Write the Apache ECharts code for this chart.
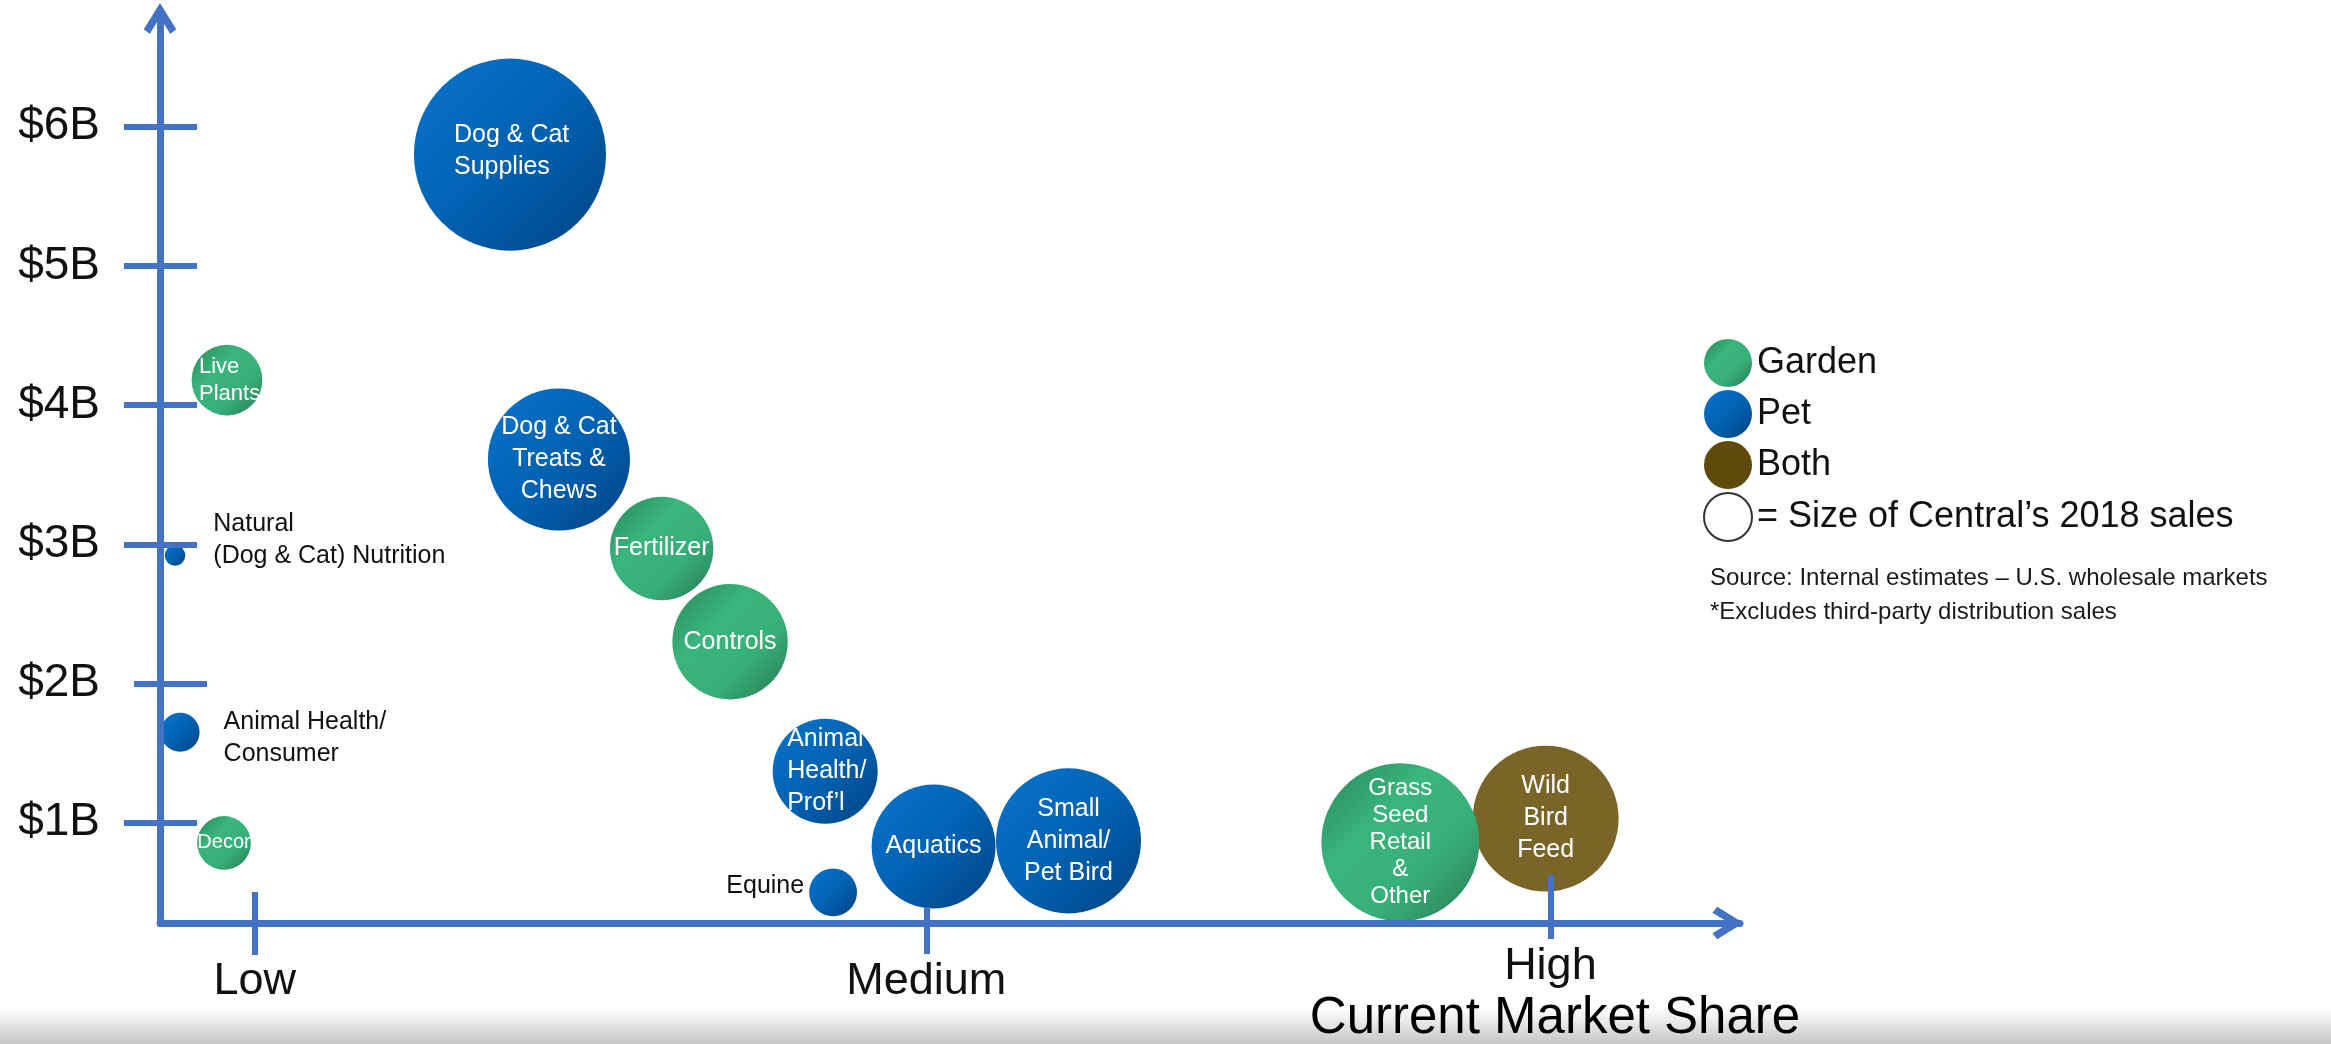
<!DOCTYPE html>
<html>
<head>
<meta charset="utf-8">
<script src="https://cdn.jsdelivr.net/npm/echarts@6/dist/echarts.min.js"></script>
<style>
html,body{margin:0;padding:0;background:#ffffff;}
#chart{width:2331px;height:1044px;}
</style>
</head>
<body>
<div id="chart"></div>
<script>
// ---------- DATA ----------
const yTickValues = [1, 2, 3, 4, 5, 6];
const yTickLabels = ['$1B', '$2B', '$3B', '$4B', '$5B', '$6B'];
const xTickValues = [6, 48.5, 88];
const xTickLabels = ['Low', 'Medium', 'High'];
const categories = ['Garden', 'Pet', 'Both'];
const sizeLegendText = '= Size of Central’s 2018 sales';

// [current market share position, U.S. wholesale market size ($B), Central's 2018 sales ($M), segment]
const gardenData = [
  [4.24, 4.18, 59, 'Live\nPlants'],
  [31.75, 2.97, 126, 'Fertilizer'],
  [36.08, 2.30, 157, 'Controls'],
  [4.05, 0.855, 34, 'Decor'],
  [78.5, 0.86, 294, 'Grass\nSeed\nRetail\n&\nOther']
];
const petData = [
  [22.15, 5.80, 435, 'Dog & Cat\nSupplies'],
  [25.25, 3.61, 238, 'Dog & Cat\nTreats &\nChews'],
  [0.95, 2.92, 5, 'Natural\n(Dog & Cat) Nutrition'],
  [1.27, 1.65, 18, 'Animal Health/\nConsumer'],
  [42.1, 1.37, 130, 'Animal\nHealth/\nProf’l'],
  [42.6, 0.50, 27, 'Equine'],
  [48.96, 0.83, 181, 'Aquatics'],
  [57.5, 0.87, 248, 'Small\nAnimal/\nPet Bird']
];
const bothData = [
  [87.7, 1.03, 251, 'Wild\nBird\nFeed']
];

// ---------- STYLE ----------
const FONT = 'Liberation Sans, Arial, Helvetica, sans-serif';
const axisColor = '#4472C4';
const chevron = 'path://M50,0 L100,81 L81.7,95.6 L50,43.8 L18.3,95.6 L0,81 Z';
// tick mark extents (px) on either side of the axis line, per tick
const xTickAbove = [31, 16, 48];
const xTickBelow = [32, 31, 16];
const yTickLeft = [36, 26, 36, 36, 36, 36];
const yTickRight = [37, 47, 37, 37, 37, 37];

const blueFill = new echarts.graphic.LinearGradient(0, 0, 1, 1, [
  {offset: 0, color: '#0a74cc'},
  {offset: 0.5, color: '#0062b2'},
  {offset: 1, color: '#004383'}
]);
const greenFill = new echarts.graphic.LinearGradient(0, 0, 1, 1, [
  {offset: 0, color: '#2a8659'},
  {offset: 0.35, color: '#3ab57c'},
  {offset: 0.65, color: '#37af79'},
  {offset: 1, color: '#287a52'}
]);
const brownFill = '#7a6529';

const labelOverrides = {
  'Live\nPlants': {fontSize: 22, lineHeight: 27, align: 'left', offset: [-28, 0]},
  'Decor': {fontSize: 20},
  'Dog & Cat\nSupplies': {align: 'left', offset: [-56, -3]},
  'Animal\nHealth/\nProf’l': {align: 'left', offset: [-38, 0]},
  'Grass\nSeed\nRetail\n&\nOther': {fontSize: 24, lineHeight: 27},
  'Natural\n(Dog & Cat) Nutrition': {position: 'right', distance: 28, offset: [0, -15], color: '#111'},
  'Animal Health/\nConsumer': {position: 'right', distance: 24, offset: [0, 6], color: '#111'},
  'Equine': {position: 'left', distance: 5, offset: [0, -6], color: '#111'}
};

function toItems(arr) {
  return arr.map(function (d) {
    const item = {value: [d[0], d[1], d[2]], name: d[3]};
    if (labelOverrides[d[3]]) item.label = labelOverrides[d[3]];
    return item;
  });
}

function bubbleSeries(name, arr, fill, z) {
  return {
    name: name,
    type: 'scatter',
    xAxisIndex: 0,
    yAxisIndex: 0,
    z: z,
    clip: false,
    data: toItems(arr),
    symbol: 'circle',
    symbolSize: function (v) { return 9.21 * Math.sqrt(v[2]); },
    itemStyle: {color: fill, opacity: 1},
    label: {
      show: true,
      position: 'inside',
      formatter: '{b}',
      color: '#ffffff',
      fontSize: 25,
      lineHeight: 32,
      fontFamily: FONT
    },
    emphasis: {disabled: true}
  };
}

const tickStyle = {color: axisColor, width: 6};
const X_MIN = 0, X_MAX = 100, Y_MIN = 0.28, Y_MAX = 6.82;

const xAxes = [{
  type: 'value', min: X_MIN, max: X_MAX, position: 'bottom', z: 5,
  axisLine: {show: true, onZero: false, lineStyle: {color: axisColor, width: 7},
    symbol: ['none', chevron], symbolSize: [35, 31], symbolOffset: [0, -12]},
  axisTick: {show: false},
  axisLabel: {
    show: true, customValues: xTickValues, margin: 36, color: '#111',
    formatter: function (v) {
      const i = xTickValues.indexOf(v);
      return (i === xTickValues.length - 1 ? '{hi|' : '{n|') + xTickLabels[i] + '}';
    },
    rich: {
      n: {fontSize: 45, fontFamily: FONT, color: '#111'},
      hi: {fontSize: 45, lineHeight: 15, fontFamily: FONT, color: '#111'}
    }
  },
  splitLine: {show: false}
}];
xTickValues.forEach(function (v, i) {
  xAxes.push({
    type: 'value', min: X_MIN, max: X_MAX, position: 'bottom', z: 6,
    axisLine: {show: false, onZero: false}, axisLabel: {show: false}, splitLine: {show: false},
    axisTick: {show: true, inside: true, customValues: [v], length: xTickAbove[i], lineStyle: tickStyle}
  });
  xAxes.push({
    type: 'value', min: X_MIN, max: X_MAX, position: 'bottom', z: 6,
    axisLine: {show: false, onZero: false}, axisLabel: {show: false}, splitLine: {show: false},
    axisTick: {show: true, inside: false, customValues: [v], length: xTickBelow[i], lineStyle: tickStyle}
  });
});

const yAxes = [{
  type: 'value', min: Y_MIN, max: Y_MAX, position: 'left', z: 5,
  axisLine: {show: true, onZero: false, lineStyle: {color: axisColor, width: 7},
    symbol: ['none', chevron], symbolSize: [35, 31], symbolOffset: [0, -6]},
  axisTick: {show: false},
  axisLabel: {show: true, customValues: yTickValues, margin: 60, fontSize: 46, color: '#111', fontFamily: FONT,
    formatter: function (v) { return yTickLabels[yTickValues.indexOf(v)]; }},
  splitLine: {show: false}
}];
yTickValues.forEach(function (v, i) {
  yAxes.push({
    type: 'value', min: Y_MIN, max: Y_MAX, position: 'left', z: 6,
    axisLine: {show: false, onZero: false}, axisLabel: {show: false}, splitLine: {show: false},
    axisTick: {show: true, inside: false, customValues: [v], length: yTickLeft[i], lineStyle: tickStyle}
  });
  yAxes.push({
    type: 'value', min: Y_MIN, max: Y_MAX, position: 'left', z: 6,
    axisLine: {show: false, onZero: false}, axisLabel: {show: false}, splitLine: {show: false},
    axisTick: {show: true, inside: true, customValues: [v], length: yTickRight[i], lineStyle: tickStyle}
  });
});

const chart = echarts.init(document.getElementById('chart'), null, {renderer: 'canvas'});
chart.setOption({
  animation: false,
  backgroundColor: '#ffffff',
  grid: {left: 160, top: 12.6, width: 1580, height: 910.4, containLabel: false, outerBoundsMode: 'none'},
  legend: {
    orient: 'vertical',
    left: 1703,
    top: 339,
    padding: 0,
    itemWidth: 48,
    itemHeight: 48,
    itemGap: 3,
    selectedMode: false,
    icon: 'circle',
    textStyle: {fontSize: 36, color: '#111', fontFamily: FONT},
    data: [
      {name: categories[0]},
      {name: categories[1]},
      {name: categories[2], itemStyle: {color: '#5f4a0c'}},
      {name: sizeLegendText}
    ]
  },
  xAxis: xAxes,
  yAxis: yAxes,
  series: [
    bubbleSeries(categories[2], bothData, brownFill, 2),
    bubbleSeries(categories[1], petData, blueFill, 3),
    bubbleSeries(categories[0], gardenData, greenFill, 4),
    {
      name: sizeLegendText, type: 'scatter', data: [],
      itemStyle: {color: '#ffffff', borderColor: '#000000', borderWidth: 2}
    }
  ],
  graphic: [
    {
      type: 'rect', left: 0, top: 1008, z: -10, silent: true,
      shape: {width: 2331, height: 36},
      style: {fill: new echarts.graphic.LinearGradient(0, 0, 0, 1, [
        {offset: 0, color: 'rgba(255,255,255,1)'},
        {offset: 1, color: '#c6c6c6'}
      ])}
    },
    {
      type: 'text', x: 1555, y: 1019, z: 100, silent: true,
      style: {text: 'Current Market Share', fontSize: 51, fill: '#000', align: 'center', verticalAlign: 'middle', fontFamily: FONT}
    },
    {
      type: 'text', x: 1710, y: 578, z: 100, silent: true,
      style: {text: 'Source: Internal estimates – U.S. wholesale markets', fontSize: 24, fill: '#1a1a1a', verticalAlign: 'middle', fontFamily: FONT}
    },
    {
      type: 'text', x: 1710, y: 612, z: 100, silent: true,
      style: {text: '*Excludes third-party distribution sales', fontSize: 24, fill: '#1a1a1a', verticalAlign: 'middle', fontFamily: FONT}
    }
  ]
});
</script>
</body>
</html>
